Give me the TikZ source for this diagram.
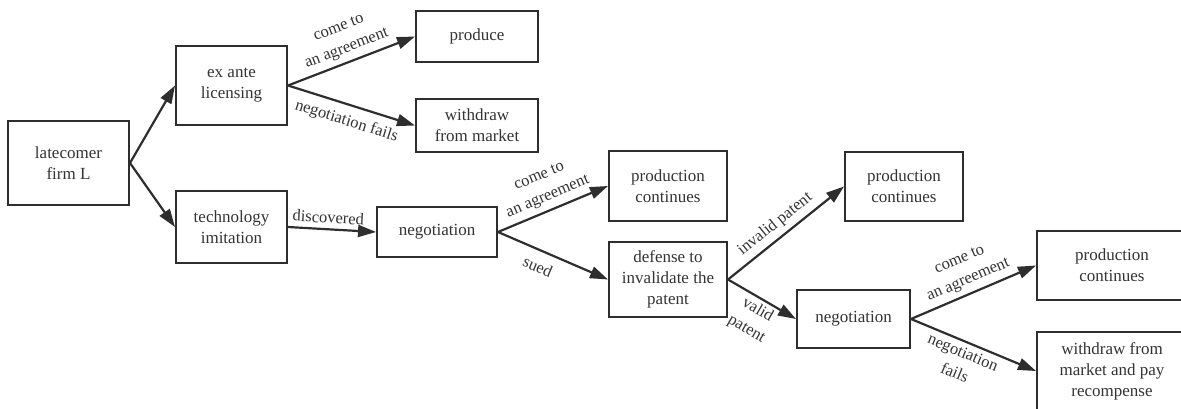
\documentclass[tikz,border=0pt]{standalone}
\usepackage{fontspec}
\setmainfont{Liberation Serif}
\usetikzlibrary{arrows.meta, positioning}
\definecolor{cline}{HTML}{2E2E2E}
\definecolor{ctext}{HTML}{333333}
\tikzset{
  every picture/.style={line width=2pt},
  box/.style={draw=cline, rectangle, align=center, inner sep=0pt, text=ctext,
    minimum width=#1, font=\fontsize{17}{21}\selectfont},
  box/.default=120pt,
  arrow/.style={-{Triangle[length=18pt,width=12pt]}, draw=cline, line width=2.2pt},
  lbl/.style={sloped, align=center, text=ctext, inner sep=5pt, font=\fontsize{16.5}{22}\selectfont},
}
\begin{document}
\begin{tikzpicture}[x=1pt, y=-1pt]
  \useasboundingbox (0,0) rectangle (1181,408);
  % first stage
  \node[box=121pt, minimum height=84pt] (firm) at (68.5,163) {latecomer\\firm L};
  \node[box=111pt, minimum height=79pt] (exante) at (231.5,85.5) {ex ante\\licensing};
  \node[box=111pt, minimum height=72pt] (imit) at (231.5,227) {technology\\imitation};
  \node[box=122pt, minimum height=51pt] (produce) at (477,36.5) {produce};
  \node[box=122pt, minimum height=53pt] (withdraw) at (477,125.5) {withdraw\\from market};
  \draw[arrow] (firm.east) -- (exante.west);
  \draw[arrow] (firm.east) -- (imit.west);
  \draw[arrow] (exante.east) -- node[lbl, above] {come to\\an agreement} (produce.west);
  \draw[arrow] (exante.east) -- node[lbl, below, inner sep=8pt] {negotiation fails} (withdraw.west);
  % imitation branch
  \node[box=120pt, minimum height=50pt] (nego1) at (437,232) {negotiation};
  \node[box=118pt, minimum height=70pt] (cont1) at (668,186) {production\\continues};
  \node[box=118pt, minimum height=75pt] (defense) at (668,279.5) {defense to\\invalidate the\\patent};
  \draw[arrow] (imit.east) -- node[lbl, above, pos=0.45] {discovered} (nego1.west);
  \draw[arrow] (nego1.east) -- node[lbl, above] {come to\\an agreement} (cont1.west);
  \draw[arrow] (nego1.east) -- node[lbl, below, pos=0.42, inner sep=9pt] {sued} (defense.west);
  % after the defense
  \node[box=118pt, minimum height=69pt] (cont2) at (904,186.5) {production\\continues};
  \node[box=113pt, minimum height=58pt] (nego2) at (853.5,319) {negotiation};
  \node[box=150pt, minimum height=69pt] (cont3) at (1112,265.5) {production\\continues};
  \node[box=150pt, minimum height=78pt] (withdrawpay) at (1112,371) {withdraw from\\market and pay\\recompense};
  \draw[arrow] (defense.east) -- node[lbl, above, pos=0.48] {invalid patent} (cont2.west);
  \draw[arrow] (defense.east) -- node[lbl, below, pos=0.52, inner sep=3pt] {valid\\patent} (nego2.west);
  \draw[arrow] (nego2.east) -- node[lbl, above] {come to\\an agreement} (cont3.west);
  \draw[arrow] (nego2.east) -- node[lbl, below, pos=0.45, inner sep=4pt] {negotiation\\fails} (withdrawpay.west);
\end{tikzpicture}
\end{document}
